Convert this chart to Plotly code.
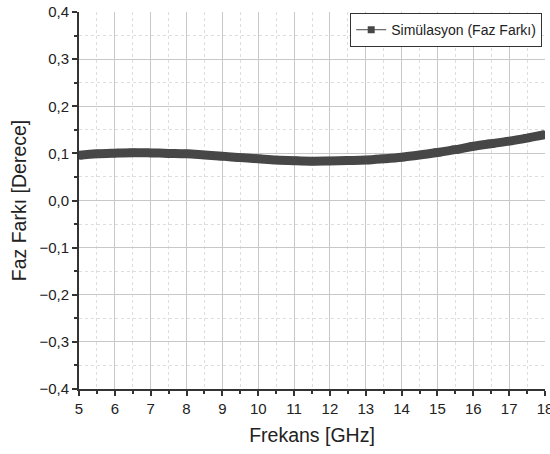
import plotly.graph_objects as go

freq_ghz = [5.0, 5.5, 6.0, 6.5, 7.0, 7.5, 8.0, 8.5, 9.0, 9.5, 10.0, 10.5, 11.0, 11.5,
            12.0, 12.5, 13.0, 13.5, 14.0, 14.5, 15.0, 15.5, 16.0, 16.5, 17.0, 17.5, 18.0]
phase_diff = [0.096, 0.099, 0.1005, 0.1015, 0.101, 0.100, 0.099, 0.0965, 0.094, 0.091, 0.0885, 0.086, 0.0845, 0.0835,
              0.084, 0.0848, 0.0858, 0.0885, 0.0918, 0.0965, 0.102, 0.108, 0.115, 0.1205, 0.126, 0.1325, 0.1395]

series_name = "Simülasyon (Faz Farkı)"
x_ticks = list(range(5, 19))
y_ticks = [-0.4, -0.3, -0.2, -0.1, 0.0, 0.1, 0.2, 0.3, 0.4]

FONT = "Liberation Sans, Arial, sans-serif"
DARK = "#474747"

fig = go.Figure()
fig.add_trace(go.Scatter(
    x=freq_ghz, y=phase_diff, name=series_name, mode="lines+markers",
    line=dict(color=DARK, width=9, shape="spline"),
    marker=dict(symbol="square", size=8, color=DARK),
    showlegend=False, legendgroup="sim",
))
# legend entry with thin line + square marker like the reference
fig.add_trace(go.Scatter(
    x=[None], y=[None], name=series_name, mode="lines+markers",
    line=dict(color=DARK, width=1),
    marker=dict(symbol="square", size=7, color=DARK),
    showlegend=True, legendgroup="sim",
))

fig.update_layout(
    width=550, height=454,
    margin=dict(l=79, r=5, t=12, b=65, autoexpand=False),
    paper_bgcolor="white", plot_bgcolor="white",
    separators=", ",
    font=dict(family=FONT, size=15, color="#222222"),
    showlegend=True,
    legend=dict(x=0.994, y=0.997, xanchor="right", yanchor="top",
                bordercolor="#333333", borderwidth=1, bgcolor="white",
                font=dict(family=FONT, size=14, color="#222222"),
                itemwidth=30, tracegroupgap=0),
    xaxis=dict(
        range=[5, 18], tickvals=x_ticks, ticktext=[str(v) for v in x_ticks],
        automargin=False, ticklabeloverflow="allow",
        tickfont=dict(size=15),
        showgrid=True, gridcolor="#c8c8c8", gridwidth=1,
        showline=True, linecolor="#333333", linewidth=2,
        ticks="outside", ticklen=5, tickwidth=1.5, tickcolor="#333333",
        minor=dict(dtick=0.5, tick0=5, showgrid=True, gridcolor="#dddddd", griddash="dot",
                   ticks="outside", ticklen=3, tickcolor="#333333"),
        title=dict(text="Frekans [GHz]", font=dict(size=19.5), standoff=12),
        zeroline=False,
    ),
    yaxis=dict(
        range=[-0.4, 0.4], tickvals=y_ticks, tickformat=".1f",
        automargin=False,
        tickfont=dict(size=15),
        showgrid=True, gridcolor="#c8c8c8", gridwidth=1,
        showline=True, linecolor="#333333", linewidth=2,
        ticks="outside", ticklen=5, tickwidth=1.5, tickcolor="#333333",
        minor=dict(dtick=0.05, tick0=0, showgrid=True, gridcolor="#dddddd", griddash="dot",
                   ticks="outside", ticklen=3, tickcolor="#333333"),
        title=dict(text="Faz Farkı [Derece]", font=dict(size=19.5), standoff=8),
        zeroline=False,
    ),
)

fig.write_html("out.html", config={"displayModeBar": False},
               post_script="document.body.style.margin='0';")
